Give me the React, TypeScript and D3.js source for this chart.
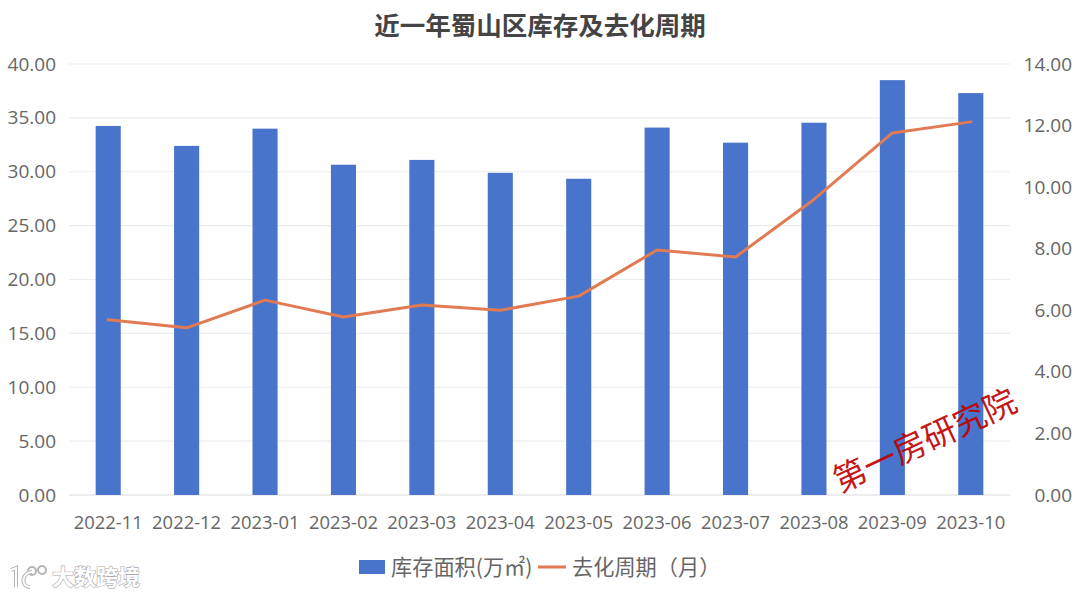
import React from 'react';
import * as d3 from 'd3';

const months = ['2022-11', '2022-12', '2023-01', '2023-02', '2023-03', '2023-04', '2023-05', '2023-06', '2023-07', '2023-08', '2023-09', '2023-10'];
const stock = [34.25, 32.4, 34.0, 30.65, 31.1, 29.9, 29.35, 34.1, 32.7, 34.55, 38.5, 37.3];
const cycle = [5.69, 5.43, 6.33, 5.78, 6.17, 6.0, 6.46, 7.96, 7.73, 9.6, 11.76, 12.12];
const leftTicks = [0, 5, 10, 15, 20, 25, 30, 35, 40];
const rightTicks = [0, 2, 4, 6, 8, 10, 12, 14];

const width = 1080;
const height = 597;
const plotLeft = 69;
const plotRight = 1010;
const plotTop = 64;
const plotBottom = 495;
const textColor = '#666';
const latin = '"Open Sans", "Noto Sans CJK SC", sans-serif';
const cjk = '"Noto Sans CJK SC", sans-serif';

export default function App() {
  const x = d3.scaleBand<string>().domain(months).range([plotLeft, plotRight]).paddingInner(0.68).paddingOuter(0.34);
  const yLeft = d3.scaleLinear().domain([0, 40]).range([plotBottom, plotTop]);
  const yRight = d3.scaleLinear().domain([0, 14]).range([plotBottom, plotTop]);
  const center = (m: string) => (x(m) || 0) + x.bandwidth() / 2;

  const line = d3.line<number>()
    .x((_, i) => center(months[i]))
    .y(d => yRight(d));

  return (
    <svg width={width} height={height} style={{ position: 'absolute', left: 0, top: 0, background: '#fff' }}>
      <text x={540} y={35} textAnchor="middle" fontFamily={cjk} fontSize={25.5} fontWeight={700} fill="#444">近一年蜀山区库存及去化周期</text>

      {leftTicks.map(t => (
        <g key={t}>
          <line x1={plotLeft} x2={plotRight} y1={yLeft(t)} y2={yLeft(t)} stroke={t === 0 ? '#dcdcdc' : '#ececec'} strokeWidth={1.2} />
          <text x={56} y={yLeft(t) + 6.5} textAnchor="end" fontFamily={latin} fontSize={19} fill={textColor}>{t.toFixed(2)}</text>
        </g>
      ))}
      {rightTicks.map(t => (
        <text key={t} x={1072} y={yRight(t) + 6.5} textAnchor="end" fontFamily={latin} fontSize={19} fill={textColor}>{t.toFixed(2)}</text>
      ))}

      {months.map((m, i) => (
        <rect key={m} x={x(m)} y={yLeft(stock[i])} width={x.bandwidth()} height={plotBottom - yLeft(stock[i])} fill="#4874cb" />
      ))}
      <path d={line(cycle) || ''} fill="none" stroke="#e07b54" strokeWidth={3} strokeLinecap="round" strokeLinejoin="round" />

      {months.map(m => (
        <text key={m} x={center(m)} y={529} textAnchor="middle" fontFamily={latin} fontSize={18.4} fill={textColor}>{m}</text>
      ))}

      <rect x={359} y={560} width={26} height={14} fill="#4874cb" />
      <text x={391} y={575} fontFamily={cjk} fontSize={21.2} fill={textColor}>库存面积(万㎡)</text>
      <line x1={538} x2={566} y1={567} y2={567} stroke="#e07b54" strokeWidth={3} />
      <text x={572} y={575} fontFamily={cjk} fontSize={21.2} fill={textColor}>去化周期（月）</text>

      <text transform="translate(840,493) rotate(-25)" fontFamily={cjk} fontSize={33} fill="#c00000" fillOpacity={0.92}>第一房研究院</text>

      {/* 水印 */}
      <g fill="none" stroke="#b5b5b5" strokeWidth={4}>
        <path d="M11 570 L16 568 L16 587" />
        <path d="M32 572 C22 572 20 587 30 587" />
        <circle cx={32} cy={571} r={4} strokeWidth={2} />
        <circle cx={42} cy={570} r={4} strokeWidth={2} />
      </g>
      <g fill="none" stroke="#fff" strokeWidth={2}>
        <path d="M11 570 L16 568 L16 587" />
        <path d="M32 572 C22 572 20 587 30 587" />
      </g>
      <text x={52} y={585} fontFamily={cjk} fontSize={22} fontWeight={700} fill="#fff" stroke="#aaa" strokeWidth={1.2} paintOrder="stroke">大数跨境</text>
    </svg>
  );
}
